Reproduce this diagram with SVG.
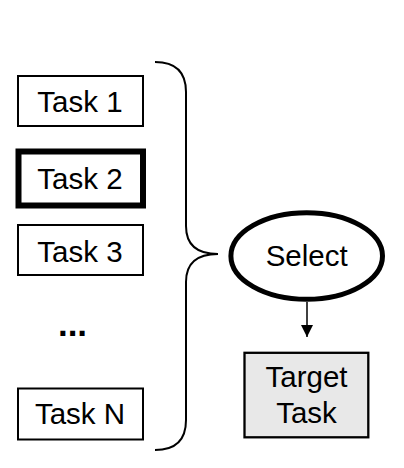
<svg xmlns="http://www.w3.org/2000/svg" width="404" height="468" viewBox="0 0 404 468">
<style>
text{font-family:"Liberation Sans",Arial,sans-serif;font-size:29.5px;fill:#000;text-anchor:middle}
.box{fill:#fff;stroke:#000;stroke-width:2}
.line{fill:none;stroke:#000;stroke-width:2}
</style>
<defs>
<marker id="arr" markerWidth="12" markerHeight="12" refX="12" refY="6" orient="auto" markerUnits="userSpaceOnUse" viewBox="0 0 12 12">
<path d="M0,0 L12,6 L0,12 Z" fill="#000"/>
</marker>
</defs>
<rect width="404" height="468" fill="#fff"/>
<g id="task1"><rect class="box" x="18" y="76" width="125" height="50"/><text x="80" y="112">Task 1</text></g>
<g id="task2"><rect class="box" x="18.5" y="151.5" width="124.5" height="54" style="stroke-width:6"/><text x="80" y="189">Task 2</text></g>
<g id="task3"><rect class="box" x="18" y="225" width="125" height="50"/><text x="80" y="262">Task 3</text></g>
<g id="dots"><text x="72.5" y="336" style="font-weight:bold;font-size:35px">...</text></g>
<g id="taskN"><rect class="box" x="18" y="388.5" width="125" height="51"/><text x="80" y="424">Task N</text></g>
<g id="select"><ellipse cx="306.7" cy="256" rx="75.8" ry="43.3" fill="#fff" stroke="#000" stroke-width="5"/><text x="306.7" y="266">Select</text></g>
<g id="target"><rect x="244.5" y="352.8" width="123.8" height="84.5" fill="#e8e8e8" stroke="#000" stroke-width="2.3"/><text x="306.5" y="387">Target</text><text x="306.5" y="422.5">Task</text></g>
<g id="connectors">
<path class="line" d="M155,62 Q186,62 186,92 L186,226 Q186,254 218,254 Q186,254 186,282 L186,420 Q186,450 155,450"/>
<line x1="307" y1="302" x2="307" y2="337" stroke="#000" stroke-width="1.5" marker-end="url(#arr)"/>
</g>
</svg>
